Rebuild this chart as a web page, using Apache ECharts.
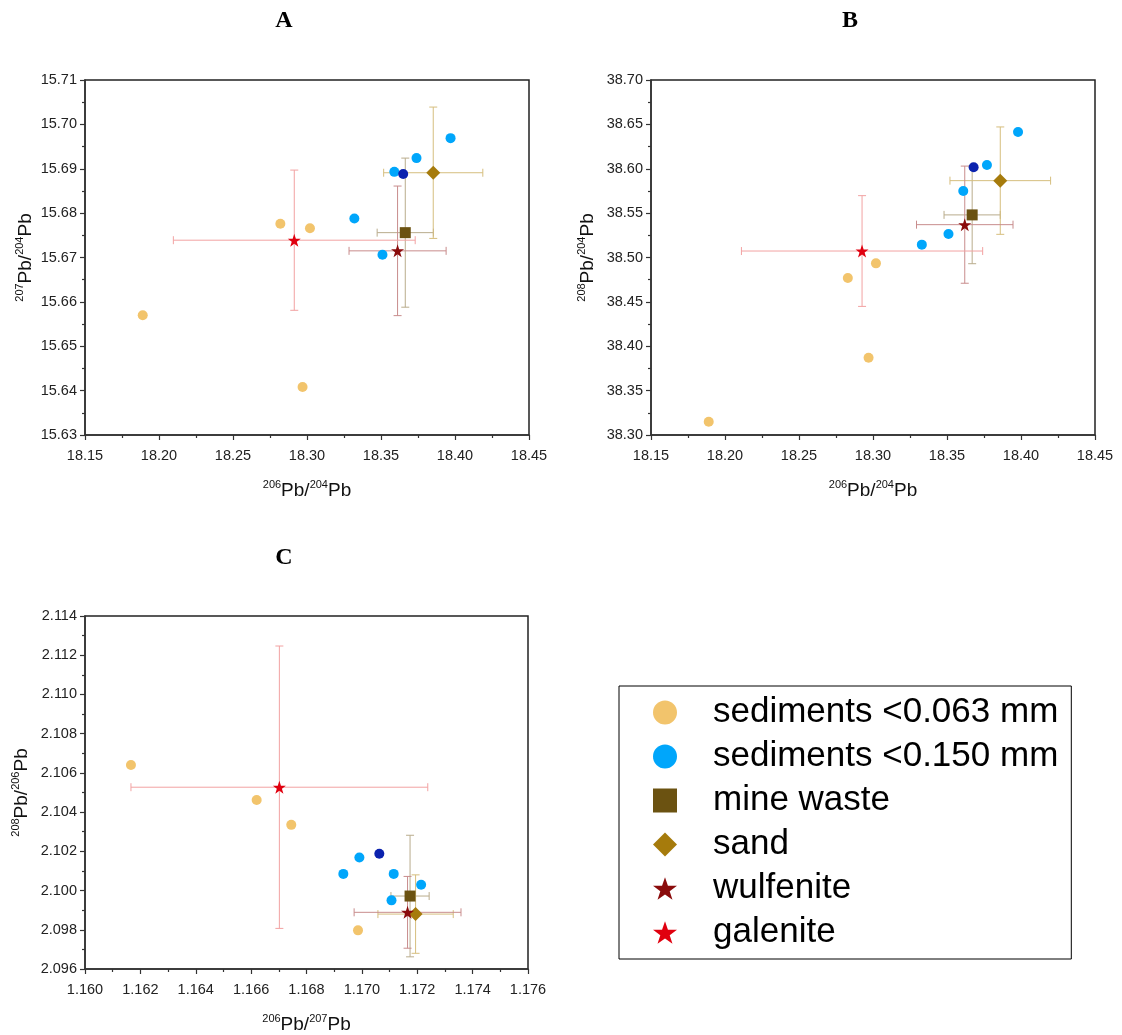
<!DOCTYPE html>
<html>
<head>
<meta charset="utf-8">
<script src="https://cdn.jsdelivr.net/npm/echarts@6/dist/echarts.min.js"></script>
<style>
html,body{margin:0;padding:0;background:#fff;}
#chart{width:1122px;height:1035px;}
</style>
</head>
<body>
<div id="chart"></div>
<script>
// ---------------- DATA ----------------
const seriesNames = ['sediments <0.063 mm','sediments <0.150 mm','mine waste','sand','wulfenite','galenite'];
const panelTitles = ['A','B','C'];

// Panel A: 206Pb/204Pb vs 207Pb/204Pb
const sedFineA   = [[18.189,15.657],[18.282,15.6776],[18.302,15.6766],[18.297,15.6408]];
const sedCoarseA = [[18.332,15.6788],[18.351,15.6706],[18.359,15.6893],[18.374,15.6924],[18.397,15.6969]];
const darkBlueA  = [[18.365,15.6888]];
const mineA = [[18.3664,15.6756,0.019,0.0168]];   // x, y, xErr, yErr
const sandA = [[18.3853,15.6891,0.0335,0.0148]];
const wulfA = [[18.3612,15.6715,0.0328,0.0146]];
const galA  = [[18.2914,15.6739,0.0817,0.0158]];

// Panel B: 206Pb/204Pb vs 208Pb/204Pb
const sedFineB   = [[18.189,38.315],[18.283,38.477],[18.302,38.4934],[18.297,38.387]];
const sedCoarseB = [[18.333,38.5145],[18.351,38.5265],[18.361,38.5749],[18.377,38.6042],[18.398,38.6414]];
const darkBlueB  = [[18.368,38.6016]];
const mineB = [[18.367,38.548,0.019,0.055]];
const sandB = [[18.386,38.5866,0.034,0.0605]];
const wulfB = [[18.362,38.537,0.0326,0.066]];
const galB  = [[18.2926,38.5073,0.0815,0.0624]];

// Panel C: 206Pb/207Pb vs 208Pb/206Pb
const sedFineC   = [[1.16166,2.1064],[1.1662,2.10462],[1.16745,2.10335],[1.16986,2.09797]];
const sedCoarseC = [[1.16933,2.10085],[1.16991,2.10169],[1.17115,2.10085],[1.17214,2.1003],[1.17107,2.0995]];
const darkBlueC  = [[1.17063,2.10188]];
const mineC = [[1.17174,2.09972,0.00069,0.0031]];
const sandC = [[1.17194,2.0988,0.00136,0.002]];
const wulfC = [[1.17165,2.09889,0.00193,0.00183]];
const galC  = [[1.16702,2.10527,0.00536,0.0072]];

// axis ranges
const xRanges = [[18.15,18.45,0.05],[18.15,18.45,0.05],[1.160,1.176,0.002]];
const yRanges = [[15.63,15.71,0.01],[38.30,38.70,0.05],[2.096,2.114,0.002]];
const xDecimals = [2,2,3];
const yDecimals = [2,2,3];
const xNames = ['{s|206}{m|Pb/}{s|204}{m|Pb}','{s|206}{m|Pb/}{s|204}{m|Pb}','{s|206}{m|Pb/}{s|207}{m|Pb}'];
const yNames = ['{s|207}{m|Pb/}{s|204}{m|Pb}','{s|208}{m|Pb/}{s|204}{m|Pb}','{s|208}{m|Pb/}{s|206}{m|Pb}'];

// ---------------- STYLE ----------------
const COL = {
  fine:'#F2C46C', coarse:'#00A6FB', dark:'#0B22AE',
  mine:'#6B5211', sand:'#A67B0C', wulf:'#8A0B0B', gal:'#E0000F'
};
const ERRCOL = {mine:'#B9AC8C', sand:'#D6BE7E', wulf:'#C88C8C', gal:'#F2A2A2'};
const STAR = 'path://M50,2 L61.8,36.4 L98,36.4 L68.8,57.6 L79.9,92 L50,71 L20.1,92 L31.2,57.6 L2,36.4 L38.2,36.4 Z';
const FONT = 'Liberation Sans';

const grids = [
  {left:85, top:80, width:444, height:355},
  {left:651, top:80, width:444, height:355},
  {left:85, top:616, width:443, height:360}
];
const yNameGaps = [48, 52, 52];

function errRender(color){
  return function(params, api){
    const x = api.value(0), y = api.value(1), ex = api.value(2), ey = api.value(3);
    const l = api.coord([x-ex,y]), r = api.coord([x+ex,y]);
    const t = api.coord([x,y+ey]), b = api.coord([x,y-ey]);
    const cap = 4;
    const style = {stroke:color, lineWidth:1, fill:null};
    const ln = (x1,y1,x2,y2)=>({type:'line', shape:{x1,y1,x2,y2}, style});
    return {type:'group', children:[
      ln(l[0],l[1],r[0],r[1]),
      ln(t[0],t[1],b[0],b[1]),
      ln(l[0],l[1]-cap,l[0],l[1]+cap),
      ln(r[0],r[1]-cap,r[0],r[1]+cap),
      ln(t[0]-cap,t[1],t[0]+cap,t[1]),
      ln(b[0]-cap,b[1],b[0]+cap,b[1])
    ]};
  };
}

const panels = [
  {fine:sedFineA, coarse:sedCoarseA, dark:darkBlueA, mine:mineA, sand:sandA, wulf:wulfA, gal:galA},
  {fine:sedFineB, coarse:sedCoarseB, dark:darkBlueB, mine:mineB, sand:sandB, wulf:wulfB, gal:galB},
  {fine:sedFineC, coarse:sedCoarseC, dark:darkBlueC, mine:mineC, sand:sandC, wulf:wulfC, gal:galC}
];

const xAxes = [], yAxes = [], series = [];
const richName = {
  m:{fontSize:19, fontFamily:FONT, color:'#111'},
  s:{fontSize:11, fontFamily:FONT, color:'#111', padding:[0,0,12,0]}
};
panels.forEach((p,i)=>{
  xAxes.push({
    type:'value', gridIndex:i, min:xRanges[i][0], max:xRanges[i][1], interval:xRanges[i][2],
    name:xNames[i], nameLocation:'middle', nameGap:44,
    nameTextStyle:{rich:richName},
    axisLine:{show:true, onZero:false, lineStyle:{color:'#333', width:1.5}},
    axisTick:{show:true, inside:false, length:5, lineStyle:{color:'#333', width:1.2}},
    minorTick:{show:true, splitNumber:2, length:3, lineStyle:{color:'#333', width:1.2}},
    splitLine:{show:false},
    axisLabel:{fontSize:14.5, fontFamily:FONT, color:'#222', margin:13,
      formatter:v=>Number(v).toFixed(xDecimals[i])}
  });
  yAxes.push({
    type:'value', gridIndex:i, min:yRanges[i][0], max:yRanges[i][1], interval:yRanges[i][2],
    name:yNames[i], nameLocation:'middle', nameGap:yNameGaps[i], nameRotate:90,
    nameTextStyle:{rich:richName},
    axisLine:{show:true, onZero:false, lineStyle:{color:'#333', width:1.5}},
    axisTick:{show:true, inside:false, length:5, lineStyle:{color:'#333', width:1.2}},
    minorTick:{show:true, splitNumber:2, length:3, lineStyle:{color:'#333', width:1.2}},
    splitLine:{show:false},
    axisLabel:{fontSize:14.5, fontFamily:FONT, color:'#222', margin:8,
      formatter:v=>Number(v).toFixed(yDecimals[i])}
  });
  ['mine','sand','wulf','gal'].forEach(k=>{
    series.push({
      type:'custom', name:'err-'+k+i, xAxisIndex:i, yAxisIndex:i, z:1,
      renderItem:errRender(ERRCOL[k]), data:p[k], silent:true
    });
  });
  series.push({type:'scatter', name:seriesNames[0], xAxisIndex:i, yAxisIndex:i, data:p.fine,
    symbol:'circle', symbolSize:10, itemStyle:{color:COL.fine, opacity:1}, z:3});
  series.push({type:'scatter', name:seriesNames[1], xAxisIndex:i, yAxisIndex:i, data:p.coarse,
    symbol:'circle', symbolSize:10, itemStyle:{color:COL.coarse, opacity:1}, z:3});
  series.push({type:'scatter', name:'dark', xAxisIndex:i, yAxisIndex:i, data:p.dark,
    symbol:'circle', symbolSize:10, itemStyle:{color:COL.dark, opacity:1}, z:3});
  series.push({type:'scatter', name:seriesNames[2], xAxisIndex:i, yAxisIndex:i, data:p.mine.map(d=>[d[0],d[1]]),
    symbol:'rect', symbolSize:11, itemStyle:{color:COL.mine, opacity:1}, z:4});
  series.push({type:'scatter', name:seriesNames[3], xAxisIndex:i, yAxisIndex:i, data:p.sand.map(d=>[d[0],d[1]]),
    symbol:'diamond', symbolSize:14, itemStyle:{color:COL.sand, opacity:1}, z:4});
  series.push({type:'scatter', name:seriesNames[4], xAxisIndex:i, yAxisIndex:i, data:p.wulf.map(d=>[d[0],d[1]]),
    symbol:STAR, symbolSize:13, itemStyle:{color:COL.wulf, opacity:1}, z:4});
  series.push({type:'scatter', name:seriesNames[5], xAxisIndex:i, yAxisIndex:i, data:p.gal.map(d=>[d[0],d[1]]),
    symbol:STAR, symbolSize:13, itemStyle:{color:COL.gal, opacity:1}, z:4});
});

const titleStyle = {fontFamily:'Liberation Serif', fontWeight:'bold', fontSize:24, color:'#000'};
const option = {
  backgroundColor:'#fff',
  animation:false,
  title:[
    {text:panelTitles[0], left:279, top:4, textAlign:'center', textStyle:titleStyle},
    {text:panelTitles[1], left:845, top:4, textAlign:'center', textStyle:titleStyle},
    {text:panelTitles[2], left:279, top:541, textAlign:'center', textStyle:titleStyle}
  ],
  grid:grids.map(g=>Object.assign({show:true, borderColor:'#222', borderWidth:1.5, backgroundColor:'transparent'}, g)),
  xAxis:xAxes,
  yAxis:yAxes,
  legend:{
    orient:'vertical', left:619, top:686,
    padding:[9,13,9,34],
    borderColor:'#000', borderWidth:1, backgroundColor:'#fff',
    itemWidth:24, itemHeight:24, itemGap:9,
    selectedMode:false,
    textStyle:{fontSize:35, fontFamily:FONT, color:'#000', lineHeight:35, padding:[0,0,0,31]},
    data:[
      {name:seriesNames[0], icon:'circle'},
      {name:seriesNames[1], icon:'circle'},
      {name:seriesNames[2], icon:'rect'},
      {name:seriesNames[3], icon:'diamond'},
      {name:seriesNames[4], icon:STAR},
      {name:seriesNames[5], icon:STAR}
    ]
  },
  series:series
};
const chart = echarts.init(document.getElementById('chart'), null, {renderer:'canvas'});
chart.setOption(option);
</script>
</body>
</html>
